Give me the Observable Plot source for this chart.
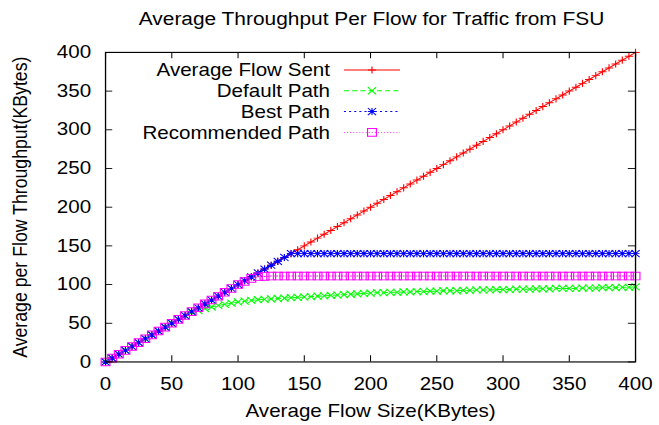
<!DOCTYPE html>
<html>
<head>
<meta charset="utf-8">
<script src="https://cdn.jsdelivr.net/npm/d3@7"></script>
<script src="https://cdn.jsdelivr.net/npm/@observablehq/plot@0.6"></script>
<style>
  html, body { margin: 0; padding: 0; overflow: hidden; background: white; width: 659px; height: 425px; }
  #wrap { position: relative; width: 640px; height: 480px; transform-origin: 0 0; transform: scale(1.0297, 0.8854);
          font-family: "Liberation Sans", Arial, Helvetica, sans-serif; color: black; background: white; }
  #title { box-sizing: border-box; height: 40px; padding-top: 2px; padding-left: 81.6px; line-height: 38px;
           font-size: 20.3px; text-align: center; white-space: nowrap; }
  #legend { position: absolute; left: 0; top: 0; pointer-events: none; }
  #chart svg { display: block; }
</style>
</head>
<body>
<div id="wrap">
  <div id="title">Average Throughput Per Flow for Traffic from FSU</div>
  <div id="chart"></div>
</div>
<script>
// ---------- data ----------
const xs = [0,5,10,15,20,25,30,35,40,45,50,55,60,65,70,75,80,85,90,95,100,105,110,115,120,125,130,135,140,145,150,155,160,165,170,175,180,185,190,195,200,205,210,215,220,225,230,235,240,245,250,255,260,265,270,275,280,285,290,295,300,305,310,315,320,325,330,335,340,345,350,355,360,365,370,375,380,385,390,395,400];
const sentY = [0,5,10,15,20,25,30,35,40,45,50,55,60,65,70,75,80,85,90,95,100,105,110,115,120,125,130,135,140,145,150,155,160,165,170,175,180,185,190,195,200,205,210,215,220,225,230,235,240,245,250,255,260,265,270,275,280,285,290,295,300,305,310,315,320,325,330,335,340,345,350,355,360,365,370,375,380,385,390,395,400];
const defaultY = [0,5,10,15,20,25,30,35,40,45,50,55,60,64,66.5,69,71,73,74.5,76,77.5,78.5,79.5,80.5,81,81.5,82,82.5,83,83.5,84,84.5,85,85.5,86,86.5,87,87.5,88,88.5,89,89.5,89.5,90,90,90.5,90.5,91,91,91.5,91.5,92,92,92,92.5,92.5,93,93,93,93.5,93.5,93.5,94,94,94,94.5,94.5,94.5,95,95,95,95,95.5,95.5,95.5,96,96,96,96.5,96.5,97];
const bestY = [0,5,10,15,20,25,30,35,40,45,50,55,60,65,70,75,80,85,90,95,100,105,110,115,120,125,130,135,140,140,140,140,140,140,140,140,140,140,140,140,140,140,140,140,140,140,140,140,140,140,140,140,140,140,140,140,140,140,140,140,140,140,140,140,140,140,140,140,140,140,140,140,140,140,140,140,140,140,140,140,140];
const recY = [0,5,10,15,20,25,30,35,40,45,50,55,60,65,70,75,80,85,90,95,100,104,108,110,110.5,111,111,111,111,111,111,111,111,111,111,111,111,111,111,111,111,111,111,111,111,111,111,111,111,111,111,111,111,111,111,111,111,111,111,111,111,111,111,111,111,111,111,111,111,111,111,111,111,111,111,111,111,111,111,111,111];
const xTicks = [0,50,100,150,200,250,300,350,400];
const yTicks = [0,50,100,150,200,250,300,350,400];
const seriesNames = ["Average Flow Sent", "Default Path", "Best Path", "Recommended Path"];
const seriesColors = ["#ff0000", "#00ff00", "#0000ff", "#ff00ff"];
const seriesDash = [null, "5,3", "2,3", "1,2"];
const xLabel = "Average Flow Size(KBytes)";
const yLabel = "Average per Flow Throughput(KBytes)";

// ---------- symbols (gnuplot point types 1-4) ----------
const R = 4;
const symPlus = { draw(c) { c.moveTo(-R, 0); c.lineTo(R, 0); c.moveTo(0, -R); c.lineTo(0, R); } };
const symTimes = { draw(c) { c.moveTo(-R, -R); c.lineTo(R, R); c.moveTo(-R, R); c.lineTo(R, -R); } };
const symStar = { draw(c) { symPlus.draw(c); symTimes.draw(c); } };
const symSquare = { draw(c) { const s = 4.3; c.moveTo(-s, -s); c.lineTo(s, -s); c.lineTo(s, s); c.lineTo(-s, s); c.closePath(); } };
const seriesSymbols = [symPlus, symTimes, symStar, symSquare];

const seriesY = [sentY, defaultY, bestY, recY];
const tables = seriesY.map((ys, i) => xs.map((x, j) => ({x, y: ys[j], s: seriesNames[i]})));

// ---------- layout (in 640x480 gnuplot space) ----------
const W = 640, SVGH = 440;
const mTop = 18.7, mLeft = 102, mRight = 23.3, mBottom = 71.7;
const fw = W - mLeft - mRight, fh = SVGH - mTop - mBottom;
const TL = 7;

const marks = [];
tables.forEach((t, i) => {
  marks.push(Plot.line(t, {x: "x", y: "y", stroke: seriesColors[i], strokeWidth: 1.1,
    strokeDasharray: seriesDash[i] || undefined}));
});
tables.forEach((t, i) => {
  marks.push(Plot.dot(t, {x: "x", y: "y", symbol: seriesSymbols[i], r: 4, fill: "none",
    stroke: seriesColors[i], strokeWidth: 1.1}));
});
marks.push(
  Plot.tickX(xTicks, {x: d => d, insetTop: fh - TL, stroke: "black"}),
  Plot.tickX(xTicks, {x: d => d, insetBottom: fh - TL, stroke: "black"}),
  Plot.tickY(yTicks, {y: d => d, insetRight: fw - TL, stroke: "black"}),
  Plot.tickY(yTicks, {y: d => d, insetLeft: fw - TL, stroke: "black"}),
  Plot.frame({stroke: "black", strokeWidth: 1.3}),
  Plot.text([xLabel], {text: d => d, frameAnchor: "bottom", textAnchor: "middle", dy: 62.3, fontSize: 20, fill: "black"}),
  Plot.text([yLabel], {text: d => d, frameAnchor: "left", textAnchor: "middle", rotate: -90, dx: -82.6, fontSize: 20, fill: "black"})
);

const chart = Plot.plot({
  width: W, height: SVGH,
  marginTop: mTop, marginLeft: mLeft, marginRight: mRight, marginBottom: mBottom,
  x: {domain: [0, 400], ticks: xTicks, tickSize: 0, tickPadding: 17, label: null},
  y: {domain: [0, 400], ticks: yTicks, tickSize: 0, tickPadding: 14, label: null},
  style: {fontFamily: '"Liberation Sans", Arial, Helvetica, sans-serif', fontSize: "20px", color: "black", background: "white", overflow: "visible"},
  marks
});
document.getElementById("chart").appendChild(chart);

// ---------- legend (inside plot, top-left like gnuplot key) ----------
const leg = d3.select("#wrap").append("svg").attr("id", "legend").attr("width", 640).attr("height", 480);
const legTextRight = 320.5, legLineX1 = 334, legLineX2 = 388.5, legTop = 79, legStep = 23.5;
seriesNames.forEach((name, i) => {
  const y = legTop + i * legStep;
  leg.append("text").attr("x", legTextRight).attr("y", y).attr("dy", "0.35em")
    .attr("text-anchor", "end").attr("font-size", 20)
    .attr("font-family", '"Liberation Sans", Arial, Helvetica, sans-serif').attr("fill", "black").text(name);
  leg.append("line").attr("x1", legLineX1).attr("x2", legLineX2).attr("y1", y).attr("y2", y)
    .attr("stroke", seriesColors[i]).attr("stroke-width", 1.1)
    .attr("stroke-dasharray", seriesDash[i] || null);
  const p = d3.path(); seriesSymbols[i].draw(p);
  leg.append("path").attr("d", p.toString()).attr("transform", `translate(${(legLineX1 + legLineX2) / 2},${y})`)
    .attr("fill", "none").attr("stroke", seriesColors[i]).attr("stroke-width", 1.1);
});
</script>
</body>
</html>
